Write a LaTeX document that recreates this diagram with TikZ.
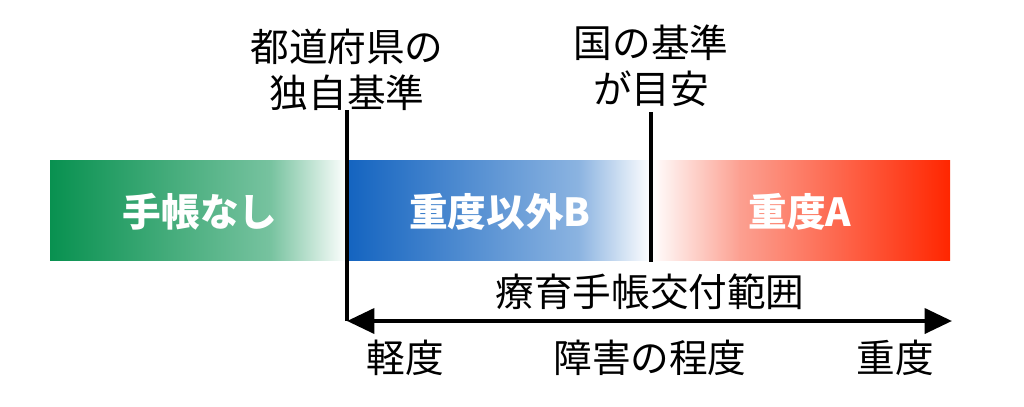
\documentclass[tikz,border=0pt]{standalone}
\usepackage{fontspec}
\setmainfont{Noto Sans CJK JP}[BoldFont={Noto Sans CJK JP Black}]
\usetikzlibrary{arrows.meta}
\definecolor{techogreen}{RGB}{8,145,80}
\definecolor{paleg}{RGB}{120,195,160}
\definecolor{juublue}{RGB}{20,100,192}
\definecolor{paleb}{RGB}{140,180,225}
\definecolor{juured}{RGB}{255,38,0}
\definecolor{paler}{RGB}{252,160,145}
\tikzset{
  lbl/.style={font=\fontsize{22}{26}\selectfont, align=center, inner sep=0pt},
  bartxt/.style={font=\bfseries\fontsize{22}{26}\selectfont, text=white, inner sep=0pt},
  roughline/.style={line width=2.4pt, black}
}
\begin{document}
\begin{tikzpicture}[x=0.02cm, y=-0.02cm, >={Triangle[length=0.55cm, width=0.5cm]}]
\useasboundingbox (0,0) rectangle (1024,406);

% bars
\shade[left color=techogreen, right color=paleg] (50,160) rectangle (272,260);
\shade[left color=paleg, right color=white] (271,160) rectangle (347,260);
\shade[left color=juublue, right color=paleb] (348,160) rectangle (580,260);
\shade[left color=paleb, right color=white] (579,160) rectangle (651,260);
\shade[left color=white, right color=paler] (651,160) rectangle (740,260);
\shade[left color=paler, right color=juured] (739,160) rectangle (950,260);

\node[bartxt] (nashi) at (200,212) {手帳なし};
\node[bartxt] (igaib) at (500,212) {重度以外B};
\node[bartxt] (juua) at (800,212) {重度A};

% criteria
\node[lbl] (todo) at (347,70) {都道府県の\\独自基準};
\node[lbl] (kuni) at (651,66) {国の基準\\が目安};

\coordinate (ltop) at (347,110);
\coordinate (lbot) at (347,321);
\coordinate (rtop) at (651,112);
\coordinate (rbot) at (651,262);
\coordinate (aend) at (952,321);

\draw[roughline] (ltop)--(lbot);
\draw[roughline] (rtop)--(rbot);
\draw[roughline, <->] (lbot)--(aend);

\node[lbl] (hani) at (650,292) {療育手帳交付範囲};
\node[lbl] (keido) at (405,358) {軽度};
\node[lbl] (teido) at (650,358) {障害の程度};
\node[lbl] (juudo) at (895,358) {重度};
\end{tikzpicture}
\end{document}
